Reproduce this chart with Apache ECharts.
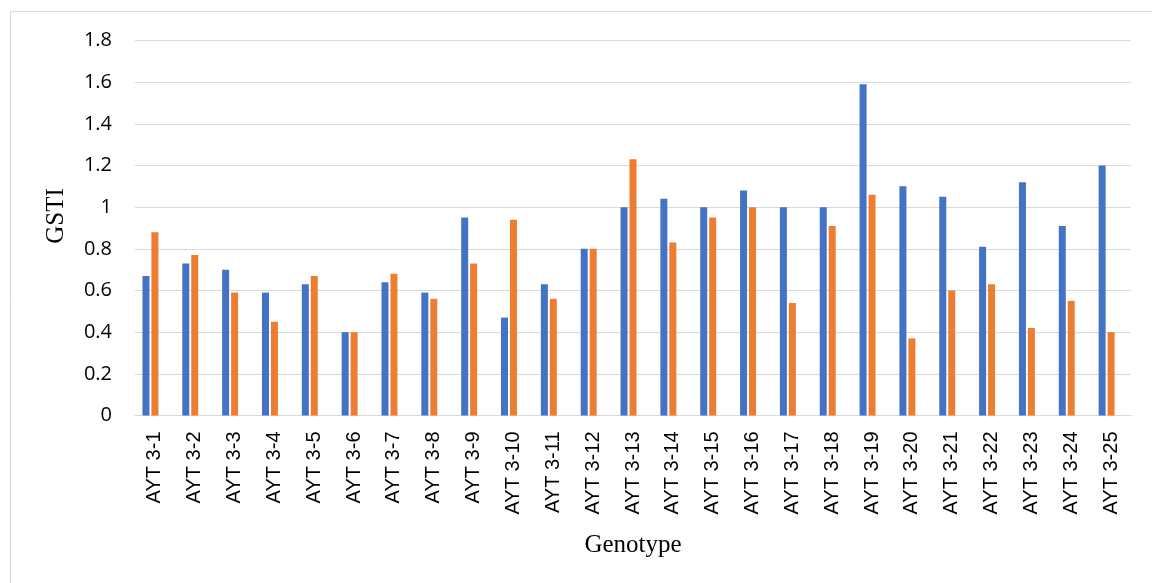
<!DOCTYPE html>
<html>
<head>
<meta charset="utf-8">
<title>GSTI by genotype</title>
<script src="https://cdn.jsdelivr.net/npm/echarts@6/dist/echarts.min.js"></script>
<style>
  html, body { margin: 0; padding: 0; background: #fff; }
  #chart { width: 1152px; height: 583px; }
</style>
</head>
<body>
<div id="chart"></div>
<script>
// Genotypes on the category axis
const genotypes = [
  'AYT 3-1', 'AYT 3-2', 'AYT 3-3', 'AYT 3-4', 'AYT 3-5', 'AYT 3-6', 'AYT 3-7',
  'AYT 3-8', 'AYT 3-9', 'AYT 3-10', 'AYT 3-11', 'AYT 3-12', 'AYT 3-13',
  'AYT 3-14', 'AYT 3-15', 'AYT 3-16', 'AYT 3-17', 'AYT 3-18', 'AYT 3-19',
  'AYT 3-20', 'AYT 3-21', 'AYT 3-22', 'AYT 3-23', 'AYT 3-24', 'AYT 3-25'
];

// GSTI values, first series (blue)
const gstiSeries1 = [
  0.67, 0.73, 0.70, 0.59, 0.63, 0.40, 0.64, 0.59, 0.95, 0.47,
  0.63, 0.80, 1.00, 1.04, 1.00, 1.08, 1.00, 1.00, 1.59, 1.10,
  1.05, 0.81, 1.12, 0.91, 1.20
];

// GSTI values, second series (orange)
const gstiSeries2 = [
  0.88, 0.77, 0.59, 0.45, 0.67, 0.40, 0.68, 0.56, 0.73, 0.94,
  0.56, 0.80, 1.23, 0.83, 0.95, 1.00, 0.54, 0.91, 1.06, 0.37,
  0.60, 0.63, 0.42, 0.55, 0.40
];

// Third series of the workbook holds no values; it still takes its slot in each group
const gstiSeries3 = genotypes.map(() => null);

// Value axis ticks
const yTicks = [0, 0.2, 0.4, 0.6, 0.8, 1, 1.2, 1.4, 1.6, 1.8];

const chart = echarts.init(document.getElementById('chart'), null, { renderer: 'canvas' });

const barCommon = {
  type: 'bar',
  barWidth: 7,
  barGap: '28%',
  animation: false
};

chart.setOption({
  animation: false,
  backgroundColor: '#ffffff',
  grid: { left: 135, right: 21, top: 40.5, bottom: 167.5 },
  xAxis: {
    type: 'category',
    data: genotypes,
    axisTick: { show: false },
    axisLine: { lineStyle: { color: '#d9d9d9', width: 1 } },
    axisLabel: {
      rotate: 90,
      interval: 0,
      margin: 16,
      color: '#000',
      fontFamily: 'Liberation Sans, Arial, sans-serif',
      fontSize: 20
    }
  },
  yAxis: {
    type: 'value',
    min: yTicks[0],
    max: yTicks[yTicks.length - 1],
    interval: 0.2,
    axisLine: { show: false },
    axisTick: { show: false },
    splitLine: { lineStyle: { color: '#d9d9d9', width: 1 } },
    axisLabel: {
      margin: 23,
      color: '#000',
      fontFamily: 'Open Sans, sans-serif',
      fontSize: 20,
      formatter: v => String(parseFloat(v.toFixed(1)))
    }
  },
  series: [
    Object.assign({ name: 'Series1', data: gstiSeries1, itemStyle: { color: '#4472C4' } }, barCommon),
    Object.assign({ name: 'Series2', data: gstiSeries2, itemStyle: { color: '#ED7D31' } }, barCommon),
    Object.assign({ name: 'Series3', data: gstiSeries3, itemStyle: { color: '#A5A5A5' } }, barCommon)
  ],
  graphic: [
    {
      type: 'rect',
      silent: true,
      shape: { x: 10.5, y: 11.5, width: 1400, height: 800 },
      style: { fill: 'none', stroke: '#d9d9d9', lineWidth: 1 }
    },
    {
      type: 'text',
      silent: true,
      x: 56,
      y: 216,
      rotation: Math.PI / 2,
      style: {
        text: 'GSTI',
        fill: '#000',
        font: '25px "Liberation Serif", "Times New Roman", serif',
        align: 'center',
        verticalAlign: 'middle'
      }
    },
    {
      type: 'text',
      silent: true,
      x: 633,
      y: 545,
      style: {
        text: 'Genotype',
        fill: '#000',
        font: '25px "Liberation Serif", "Times New Roman", serif',
        align: 'center',
        verticalAlign: 'middle'
      }
    }
  ]
});
</script>
</body>
</html>
